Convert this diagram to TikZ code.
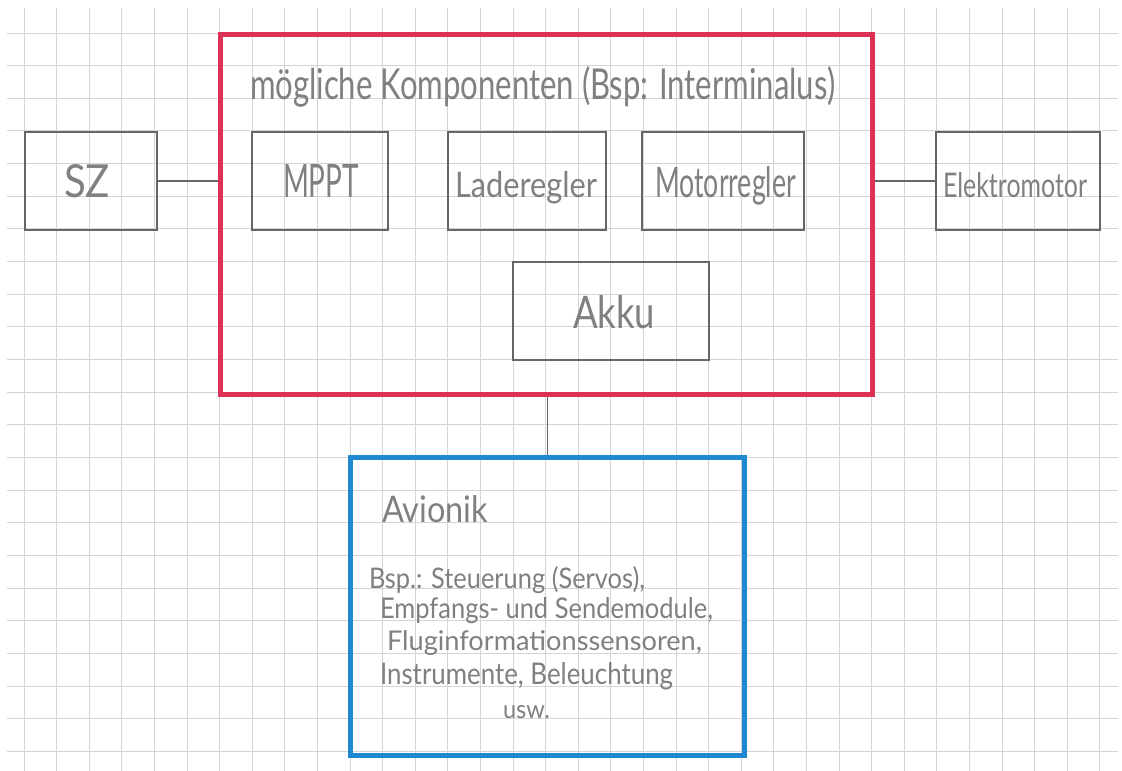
\documentclass[tikz,border=0pt]{standalone}
\usepackage{fontspec}
\usepackage{graphicx}
\newfontfamily\hand{Lato}
\definecolor{pencil}{HTML}{808080}
\definecolor{boxline}{HTML}{666666}
\definecolor{redpen}{HTML}{DA3155}
\definecolor{bluepen}{HTML}{1E88D0}
\definecolor{gridc}{HTML}{D4D4D4}
\newcommand{\hw}[3]{\resizebox{#1pt}{#2pt}{\hand #3}}
\begin{document}
\begin{tikzpicture}[x=1pt,y=-1pt,
  txt/.style={inner sep=0pt, outer sep=0pt, anchor=base west, text=pencil},
  comp/.style={draw=boxline, line width=1.5pt, inner sep=0pt, anchor=north west},
  frame/.style={line width=5pt, inner sep=0pt, anchor=north west},
  wire/.style={draw=boxline, line width=1.5pt}]
\useasboundingbox (0,0) rectangle (1122,771);
\fill[white] (0,0) rectangle (1122,771);
% graph paper
\foreach \k in {0,...,33} \draw[gridc, line width=1pt] ({24+32.6*\k},8) -- ({24+32.6*\k},771);
\foreach \k in {0,...,22} \draw[gridc, line width=1pt] (7,{33+32.65*\k}) -- (1118,{33+32.65*\k});

% frames
\node[frame, draw=redpen, minimum width=652pt, minimum height=360pt] (red) at (218,32) {};
\node[frame, draw=bluepen, minimum width=394pt, minimum height=298pt] (blue) at (348,455) {};

% component boxes
\node[comp, minimum width=132pt, minimum height=98pt] (sz) at (24,131) {};
\node[comp, minimum width=136pt, minimum height=98pt] (mppt) at (251,131) {};
\node[comp, minimum width=158pt, minimum height=98pt] (lade) at (447,131) {};
\node[comp, minimum width=162pt, minimum height=98pt] (motor) at (641,131) {};
\node[comp, minimum width=164pt, minimum height=98pt] (elek) at (935,131) {};
\node[comp, minimum width=196pt, minimum height=98pt] (akku) at (512,261) {};

% texts
\node[txt] (szt) at (64,197) {\hw{46}{33}{SZ}};
\node[txt] (mpptt) at (283,197) {\hw{76}{33}{MPPT}};
\node[txt] (ladet) at (455,197) {\hw{142}{26}{Laderegler}};
\node[txt] (motort) at (655,197) {\hw{141}{31}{Motorregler}};
\node[txt] (elekt) at (943,197) {\hw{144}{25}{Elektromotor}};
\node[txt] (akkut) at (573,328) {\hw{82}{33}{Akku}};
\node[txt] (title) at (250,99) {\hw{585}{33}{mögliche Komponenten (Bsp: Interminalus)}};
\node[txt] (avt) at (382,522) {\hw{106}{27}{Avionik}};
\node[txt] (l1) at (369,588) {\hw{276}{22}{Bsp.: Steuerung (Servos),}};
\node[txt] (l2) at (380,618) {\hw{333}{21}{Empfangs- und Sendemodule,}};
\node[txt] (l3) at (387,650) {\hw{315}{20}{Fluginformationssensoren,}};
\node[txt] (l4) at (380,684) {\hw{293}{22}{Instrumente, Beleuchtung}};
\node[txt] (l5) at (503,718) {\hw{47}{13}{usw.}};

% connectors
\draw[wire] (sz.east) -- (sz.east -| red.west);
\draw[wire] (elek.west) -- (elek.west -| red.east);
\draw[wire] (blue.north) -- (blue.north |- red.south);
\end{tikzpicture}
\end{document}
